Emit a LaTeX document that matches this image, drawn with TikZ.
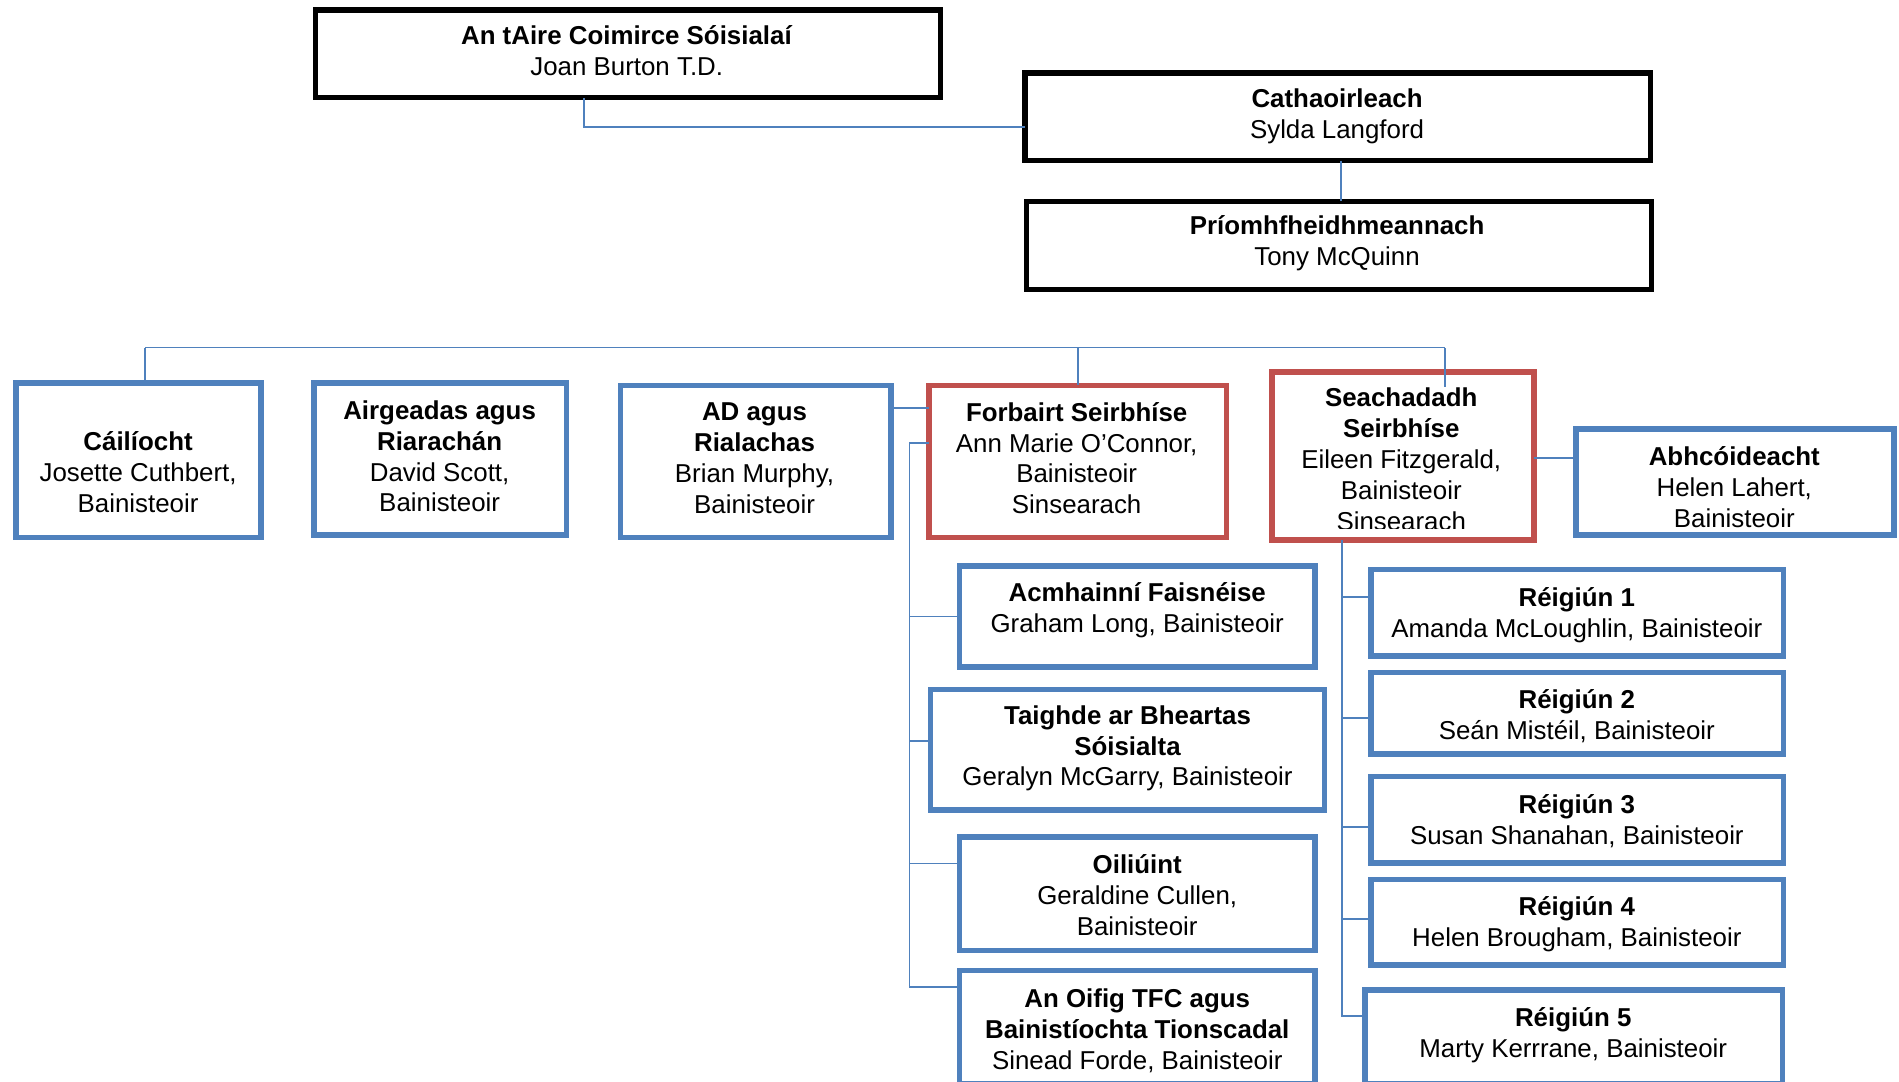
\documentclass[tikz,border=0pt]{standalone}
\usepackage{fontspec}
\setmainfont{Liberation Sans}
\usetikzlibrary{calc}
\definecolor{obl}{RGB}{79,129,189}
\definecolor{ored}{RGB}{192,80,77}
\begin{document}
\begin{tikzpicture}[x=0.908323pt, y=-0.908323pt,
  bx/.style 2 args={minimum width={(#1-4.5)*0.908323pt}, minimum height={(#2-4.5)*0.908323pt}, inner sep=0pt, outer sep=0pt},
  blk/.style={draw=black, line width=3.9pt},
  blu/.style={draw=obl, line width=4.2pt},
  rd/.style={draw=ored, line width=4.2pt},
  txt/.style={align=center, inner sep=0pt, font=\fontsize{19.4}{23.2}\selectfont, execute at begin node=\strut, execute at end node=\strut},
  ln/.style={draw=obl, line width=1.3pt}]
\useasboundingbox (0,0) rectangle (1568,893);

% top boxes
\node[blk, bx={521}{77}] (min) at (518.5,44.5) {};
\node[txt] (mint) at (517.5,45.5) {\textbf{An tAire Coimirce Sóisialaí}\\Joan Burton T.D.};
\node[blk, bx={521}{77}] (chair) at (1104.5,96.5) {};
\node[txt] (chairt) at (1104,98) {\textbf{Cathaoirleach}\\Sylda Langford};
\node[blk, bx={521}{77}] (ceo) at (1105.5,202.5) {};
\node[txt] (ceot) at (1104,202.5) {\textbf{Príomhfheidhmeannach}\\Tony McQuinn};

% level 2
\node[blu, bx={207}{132}] (cail) at (114.5,380) {};
\node[txt] (cailt) at (114,393.5) {\textbf{Cáilíocht}\\Josette Cuthbert,\\Bainisteoir};
\node[blu, bx={213}{130}] (airg) at (363.5,379) {};
\node[txt] (airgt) at (363,380.5) {\textbf{Airgeadas agus}\\\textbf{Riarachán}\\David Scott,\\Bainisteoir};
\node[blu, bx={228}{130}] (ad) at (624,381) {};
\node[txt] (adt) at (623,382) {\textbf{AD agus}\\\textbf{Rialachas}\\Brian Murphy,\\Bainisteoir};
\node[rd, bx={250}{130}] (forb) at (890,381) {};
\node[txt] (forbt) at (889,382) {\textbf{Forbairt Seirbhíse}\\Ann Marie O’Connor,\\Bainisteoir\\Sinsearach};
\node[rd, bx={221}{143}] (seach) at (1158.5,376.5) {};
\begin{scope}
\clip ($(seach.north west)+(2,2)$) rectangle ($(seach.south east)+(-2,-9)$);
\node[txt] (seacht) at (1157,383) {\textbf{Seachadadh}\\\textbf{Seirbhíse}\\Eileen Fitzgerald,\\Bainisteoir\\Sinsearach};
\end{scope}
\node[blu, bx={267}{92}] (abh) at (1432.5,398) {};
\node[txt] (abht) at (1432,406) {\textbf{Abhcóideacht}\\Helen Lahert,\\Bainisteoir};

% Forbairt children
\node[blu, bx={298}{88}] (acm) at (939,509) {};
\node[txt] (acmt) at (939,505.5) {\textbf{Acmhainní Faisnéise}\\Graham Long, Bainisteoir};
\node[blu, bx={330}{104}] (taig) at (931,619) {};
\node[txt] (taigt) at (931,619.5) {\textbf{Taighde ar Bheartas}\\\textbf{Sóisialta}\\Geralyn McGarry, Bainisteoir};
\node[blu, bx={298}{98}] (oil) at (939,738) {};
\node[txt] (oilt) at (939,743) {\textbf{Oiliúint}\\Geraldine Cullen,\\Bainisteoir};
\node[blu, bx={298}{98}] (oifig) at (939,848) {};
\node[txt] (oifigt) at (939,853.5) {\textbf{An Oifig TFC agus}\\\textbf{Bainistíochta Tionscadal}\\Sinead Forde, Bainisteoir};

% Seachadadh children
\node[blu, bx={345}{76}] (r1) at (1302.5,506) {};
\node[txt] (r1t) at (1302,509.5) {\textbf{Réigiún 1}\\Amanda McLoughlin, Bainisteoir};
\node[blu, bx={345}{72}] (r2) at (1302.5,589) {};
\node[txt] (r2t) at (1302,593.5) {\textbf{Réigiún 2}\\Seán Mistéil, Bainisteoir};
\node[blu, bx={345}{76}] (r3) at (1302.5,677) {};
\node[txt] (r3t) at (1302,680.5) {\textbf{Réigiún 3}\\Susan Shanahan, Bainisteoir};
\node[blu, bx={345}{75}] (r4) at (1302.5,761.5) {};
\node[txt] (r4t) at (1302,764.5) {\textbf{Réigiún 4}\\Helen Brougham, Bainisteoir};
\node[blu, bx={349}{82}] (r5) at (1299.5,856) {};
\node[txt] (r5t) at (1299,856) {\textbf{Réigiún 5}\\Marty Kerrrane, Bainisteoir};

% connectors
\draw[ln] ($(min.south)+(-36.5,0)$) |- ($(chair.west)+(0,8.5)$);
\draw[ln] ($(chair.south)+(2.5,0)$) -- ($(ceo.north)+(1.5,0)$);
\coordinate (busL) at (120,287);
\coordinate (busR) at (1193,287);
\draw[ln] ($(ceo.south)+(1.5,0)$) -- ($(ceo.south)+(1.5,0)$ |- busL);
\draw[ln] (busL) -- (busR);
\draw[ln] ($(cail.north)+(5.5,0)$) |- (busL);
\draw[ln] ($(airg.north)+(-18.7,0)$) -- ($(airg.north)+(-18.7,0)$ |- busL);
\draw[ln] ($(ad.north)+(14,0)$) -- ($(ad.north)+(14,0)$ |- busL);
\draw[ln] (forb.north) -- (forb.north |- busL);
\draw[ln] ($(seach.north)+(34.5,12)$) |- (busR);
\draw[ln] ($(ad.east)+(0,-44)$) -- ($(forb.west)+(0,-44)$);
\draw[ln] ($(seach.east)+(0,1.5)$) -- ($(abh.west)+(0,-20)$);

% Forbairt spine
\coordinate (fsp) at (751,366);
\draw[ln] ($(forb.west)+(0,-15)$) -- (fsp) |- ($(oifig.west)+(0,-33)$);
\draw[ln] (fsp) |- (acm.west);
\draw[ln] (fsp) |- ($(taig.west)+(0,-7)$);
\draw[ln] (fsp) |- ($(oil.west)+(0,-25)$);

% Seachadadh spine
\coordinate (ssp) at ($(seach.south)+(-50.5,0)$);
\draw[ln] (ssp) |- ($(r5.west)+(0,-17)$);
\draw[ln] (ssp) |- ($(r1.west)+(0,-13)$);
\draw[ln] (ssp) |- ($(r2.west)+(0,4)$);
\draw[ln] (ssp) |- ($(r3.west)+(0,6)$);
\draw[ln] (ssp) |- ($(r4.west)+(0,-2.5)$);
\end{tikzpicture}
\end{document}
